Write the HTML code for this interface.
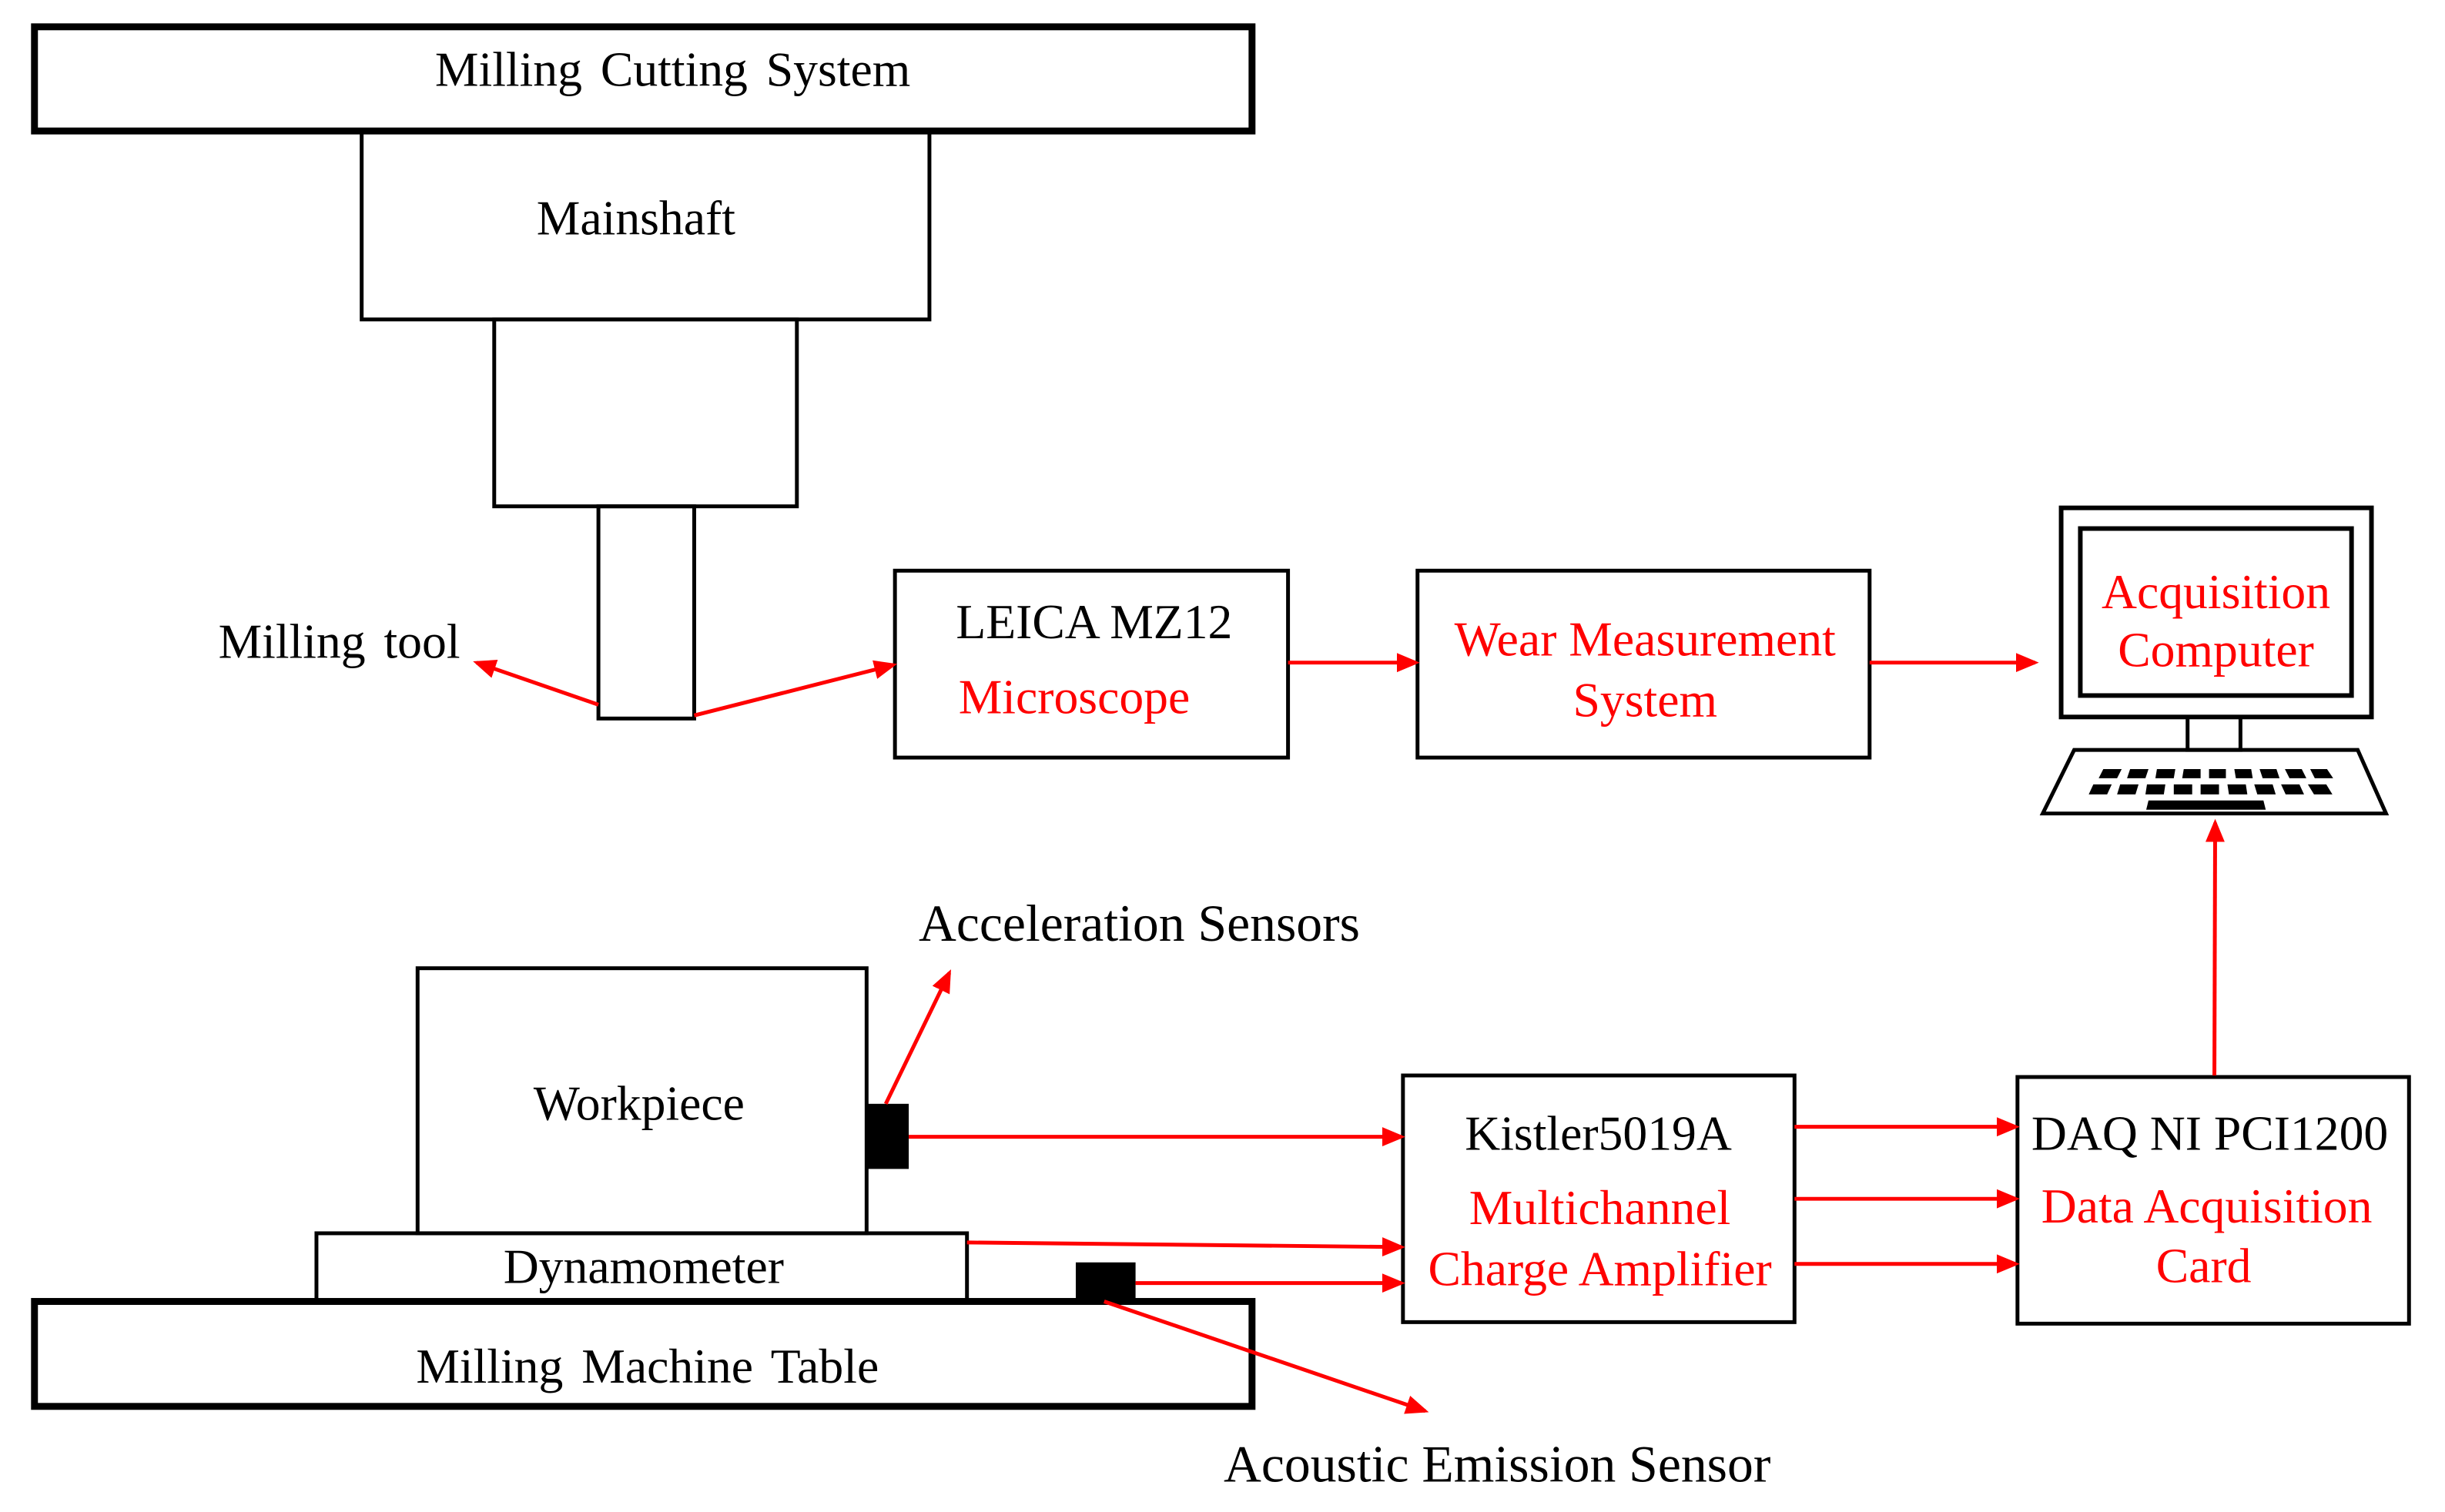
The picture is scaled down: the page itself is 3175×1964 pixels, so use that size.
<!DOCTYPE html>
<html><head><meta charset="utf-8"><style>body{margin:0;background:#fff}svg{display:block}</style></head>
<body>
<svg width="3175" height="1964" viewBox="0 0 3175 1964" xmlns="http://www.w3.org/2000/svg" font-family="Liberation Serif, serif" font-size="64">
<defs>
<marker id="a" markerWidth="6" markerHeight="6" refX="5" refY="3" orient="auto" markerUnits="strokeWidth"><path d="M0,0.5 L6,3 L0,5.5 z" fill="#f00"/></marker>
</defs>
<g transform="scale(0.995)">
<g fill="none" stroke="#000">
<rect x="45" y="35" width="1589" height="136" stroke-width="9"/>
<rect x="472" y="171" width="741" height="246" stroke-width="5"/>
<rect x="645" y="417" width="395" height="244" stroke-width="5"/>
<rect x="781" y="661" width="125" height="277" stroke-width="5"/>
<rect x="1168" y="745" width="513" height="244" stroke-width="5"/>
<rect x="1850" y="745" width="590" height="244" stroke-width="5"/>
<rect x="2690" y="663" width="405" height="273" stroke-width="6"/>
<rect x="2715" y="690" width="354" height="218" stroke-width="6"/>
<rect x="2855" y="936" width="69" height="43" stroke-width="5"/>
<path d="M2707,979 L3077,979 L3114,1062 L2666,1062 Z" stroke-width="5"/>
<rect x="545" y="1264" width="586" height="346" stroke-width="5"/>
<rect x="413" y="1610" width="849" height="89" stroke-width="5"/>
<rect x="45" y="1699" width="1589" height="137" stroke-width="9"/>
<rect x="1831" y="1404" width="511" height="322" stroke-width="5"/>
<rect x="2633" y="1406" width="511" height="322" stroke-width="5"/>
</g>
<g fill="#000">
<rect x="1131" y="1441" width="55" height="85"/>
<rect x="1404" y="1648" width="78" height="51"/>
<path d="M2745,1004h24l-6,12h-24z M2780,1004h24l-4,12h-24z M2815,1004h24l-2,12h-24z M2850,1004h22v12h-24z M2883,1004h22v12h-22z M2916,1004h22l2,12h-22z M2949,1004h22l4,12h-22z M2982,1004h22l6,12h-22z M3015,1004h22l8,12h-24z"/>
<path d="M2732,1024h24l-6,13h-24z M2767,1024h24l-4,13h-24z M2802,1024h24l-2,13h-24z M2837,1024h24v13h-24z M2872,1024h24v13h-24z M2907,1024h24l2,13h-24z M2942,1024h24l4,13h-24z M2977,1024h24l6,13h-24z M3012,1024h24l8,13h-24z"/>
<path d="M2804,1045h150l3,12h-156z"/>
</g>
<g stroke="#f00" stroke-width="5" fill="none" marker-end="url(#a)">
<line x1="781" y1="920" x2="622" y2="865"/>
<line x1="906" y1="934" x2="1166" y2="868"/>
<line x1="1681" y1="865" x2="1848" y2="865"/>
<line x1="2440" y1="865" x2="2656" y2="865"/>
<line x1="2890" y1="1404" x2="2891" y2="1074"/>
<line x1="1156" y1="1441" x2="1239" y2="1270"/>
<line x1="1186" y1="1484" x2="1829" y2="1484"/>
<line x1="1262" y1="1622" x2="1829" y2="1628"/>
<line x1="1482" y1="1675" x2="1829" y2="1675"/>
<line x1="1441" y1="1699" x2="1860" y2="1842"/>
<line x1="2342" y1="1471" x2="2631" y2="1471"/>
<line x1="2342" y1="1565" x2="2631" y2="1565"/>
<line x1="2342" y1="1650" x2="2631" y2="1650"/>
</g>
<g text-anchor="middle" fill="#000">
<text x="878" y="112" word-spacing="8">Milling Cutting System</text>
<text x="830" y="306">Mainshaft</text>
<text x="1428" y="833">LEICA MZ12</text>
<text x="834" y="1462">Workpiece</text>
<text x="840" y="1675">Dynamometer</text>
<text x="845" y="1805" word-spacing="8">Milling Machine Table</text>
<text x="2086" y="1501">Kistler5019A</text>
<text x="2884" y="1501">DAQ NI PCI1200</text>
</g>
<g fill="#000">
<text x="285" y="859" word-spacing="8">Milling tool</text>
<text x="1199" y="1228" font-size="68">Acceleration Sensors</text>
<text x="1597" y="1934" font-size="68">Acoustic Emission Sensor</text>
</g>
<g text-anchor="middle" fill="#f00">
<text x="1402" y="931">Microscope</text>
<text x="2147" y="856">Wear Measurement</text>
<text x="2147" y="935">System</text>
<text x="2892" y="794">Acquisition</text>
<text x="2892" y="870">Computer</text>
<text x="2088" y="1598">Multichannel</text>
<text x="2088" y="1678">Charge Amplifier</text>
<text x="2880" y="1596">Data Acquisition</text>
<text x="2876" y="1674">Card</text>
</g>
</g>
</svg>
</body></html>
